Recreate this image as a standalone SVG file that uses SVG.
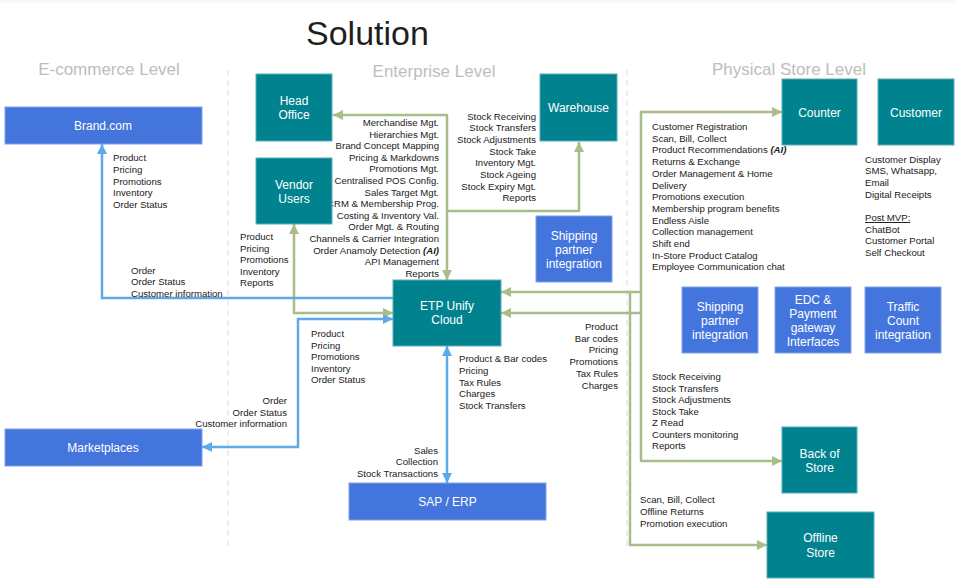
<svg xmlns="http://www.w3.org/2000/svg" width="955" height="584" viewBox="0 0 955 584">
<style>
.lbl{font-family:"Liberation Sans",Arial,sans-serif;font-size:9.6px;fill:#1a1a1a}
.end{text-anchor:end}
.nt{font-family:"Liberation Sans",Arial,sans-serif;font-size:12px;fill:#ffffff;text-anchor:middle}
.lvl{font-family:"Liberation Sans",Arial,sans-serif;font-size:17px;fill:#bdbdbd;text-anchor:middle}
.teal{fill:#00838f;stroke:#5aaeb8;stroke-width:1}
.blue{fill:#4475dd;stroke:#7ea3ec;stroke-width:1}
.g{fill:none;stroke:#a9bd8b;stroke-width:2.5}
.b{fill:none;stroke:#5da9e9;stroke-width:2.5}
.div{stroke:#dddddd;stroke-width:1;stroke-dasharray:6,4}
.ai{font-weight:bold;font-style:italic}
</style>
<defs>
<marker id="ag" viewBox="0 0 10 10" refX="10" refY="5" markerWidth="10" markerHeight="10" markerUnits="userSpaceOnUse" orient="auto-start-reverse"><path d="M0,0 L10,5 L0,10 z" fill="#a9bd8b"/></marker>
<marker id="ab" viewBox="0 0 10 10" refX="10" refY="5" markerWidth="10" markerHeight="10" markerUnits="userSpaceOnUse" orient="auto-start-reverse"><path d="M0,0 L10,5 L0,10 z" fill="#5da9e9"/></marker>
</defs>
<rect x="0" y="0" width="955" height="584" fill="#ffffff"/>
<rect x="0" y="0" width="955" height="3" fill="#f6f8fb"/>

<text x="306" y="45" font-family="Liberation Sans,Arial,sans-serif" font-size="34" fill="#1f1f1f">Solution</text>

<g id="levels">
<line class="div" x1="228" y1="70" x2="228" y2="548"/>
<line class="div" x1="627" y1="70" x2="627" y2="548"/>
<text class="lvl" x="109" y="75">E-commerce Level</text>
<text class="lvl" x="434" y="77">Enterprise Level</text>
<text class="lvl" x="789" y="75">Physical Store Level</text>
</g>

<g id="connectors">
<path class="g" d="M447,280 V115 H333" marker-start="url(#ag)" marker-end="url(#ag)"/>
<path class="g" d="M447,211 H579 V142" marker-end="url(#ag)"/>
<path class="g" d="M393,313 H294 V224" marker-start="url(#ag)" marker-end="url(#ag)"/>
<path class="g" d="M501,292 H641" marker-start="url(#ag)"/>
<path class="g" d="M501,313 H641" marker-start="url(#ag)"/>
<path class="g" d="M782,112 H641 V461 H782" marker-start="url(#ag)" marker-end="url(#ag)"/>
<path class="g" d="M630,292 V545 H767" marker-end="url(#ag)"/>
<path class="b" d="M393,298 H102 V144" marker-end="url(#ab)"/>
<path class="b" d="M393,319 H298 V447 H202" marker-start="url(#ab)" marker-end="url(#ab)"/>
<path class="b" d="M447,346 V483" marker-start="url(#ab)" marker-end="url(#ab)"/>
</g>

<g id="labels">
<text class="lbl" x="113" y="161">Product</text>
<text class="lbl" x="113" y="172.8">Pricing</text>
<text class="lbl" x="113" y="184.6">Promotions</text>
<text class="lbl" x="113" y="196.4">Inventory</text>
<text class="lbl" x="113" y="208.2">Order Status</text>

<text class="lbl" x="131" y="273.5">Order</text>
<text class="lbl" x="131" y="285.3">Order Status</text>
<text class="lbl" x="131" y="297">Customer information</text>

<text class="lbl" x="240" y="240">Product</text>
<text class="lbl" x="240" y="251.6">Pricing</text>
<text class="lbl" x="240" y="263.2">Promotions</text>
<text class="lbl" x="240" y="274.8">Inventory</text>
<text class="lbl" x="240" y="286.4">Reports</text>

<text class="lbl end" x="439" y="126">Merchandise Mgt.</text>
<text class="lbl end" x="439" y="137.6">Hierarchies Mgt.</text>
<text class="lbl end" x="439" y="149.2">Brand Concept Mapping</text>
<text class="lbl end" x="439" y="160.8">Pricing &amp; Markdowns</text>
<text class="lbl end" x="439" y="172.4">Promotions Mgt.</text>
<text class="lbl end" x="439" y="184">Centralised POS Config.</text>
<text class="lbl end" x="439" y="195.6">Sales Target Mgt.</text>
<text class="lbl end" x="439" y="207.2">CRM &amp; Membership Prog.</text>
<text class="lbl end" x="439" y="218.8">Costing &amp; Inventory Val.</text>
<text class="lbl end" x="439" y="230.4">Order Mgt. &amp; Routing</text>
<text class="lbl end" x="439" y="242">Channels &amp; Carrier Integration</text>
<text class="lbl end" x="439" y="253.6">Order Anamoly Detection <tspan class="ai">(AI)</tspan></text>
<text class="lbl end" x="439" y="265.2">API Management</text>
<text class="lbl end" x="439" y="276.8">Reports</text>

<text class="lbl end" x="536" y="119.5">Stock Receiving</text>
<text class="lbl end" x="536" y="131.2">Stock Transfers</text>
<text class="lbl end" x="536" y="142.9">Stock Adjustments</text>
<text class="lbl end" x="536" y="154.6">Stock Take</text>
<text class="lbl end" x="536" y="166.3">Inventory Mgt.</text>
<text class="lbl end" x="536" y="178">Stock Ageing</text>
<text class="lbl end" x="536" y="189.7">Stock Expiry Mgt.</text>
<text class="lbl end" x="536" y="201.4">Reports</text>

<text class="lbl" x="652" y="130">Customer Registration</text>
<text class="lbl" x="652" y="141.7">Scan, Bill, Collect</text>
<text class="lbl" x="652" y="153.4">Product Recommendations <tspan class="ai">(AI)</tspan></text>
<text class="lbl" x="652" y="165.1">Returns &amp; Exchange</text>
<text class="lbl" x="652" y="176.8">Order Management &amp; Home</text>
<text class="lbl" x="652" y="188.5">Delivery</text>
<text class="lbl" x="652" y="200.2">Promotions execution</text>
<text class="lbl" x="652" y="211.9">Membership program benefits</text>
<text class="lbl" x="652" y="223.6">Endless Aisle</text>
<text class="lbl" x="652" y="235.3">Collection management</text>
<text class="lbl" x="652" y="247">Shift end</text>
<text class="lbl" x="652" y="258.7">In-Store Product Catalog</text>
<text class="lbl" x="652" y="270.4">Employee Communication chat</text>

<text class="lbl" x="865" y="162.5">Customer Display</text>
<text class="lbl" x="865" y="174.2">SMS, Whatsapp,</text>
<text class="lbl" x="865" y="185.8">Email</text>
<text class="lbl" x="865" y="197.5">Digital Receipts</text>
<text class="lbl" x="865" y="221" text-decoration="underline">Post MVP:</text>
<text class="lbl" x="865" y="232.5">ChatBot</text>
<text class="lbl" x="865" y="244.2">Customer Portal</text>
<text class="lbl" x="865" y="255.8">Self Checkout</text>

<text class="lbl end" x="618" y="330">Product</text>
<text class="lbl end" x="618" y="341.7">Bar codes</text>
<text class="lbl end" x="618" y="353.4">Pricing</text>
<text class="lbl end" x="618" y="365.1">Promotions</text>
<text class="lbl end" x="618" y="376.8">Tax Rules</text>
<text class="lbl end" x="618" y="388.5">Charges</text>

<text class="lbl" x="459" y="362">Product &amp; Bar codes</text>
<text class="lbl" x="459" y="373.8">Pricing</text>
<text class="lbl" x="459" y="385.6">Tax Rules</text>
<text class="lbl" x="459" y="397.4">Charges</text>
<text class="lbl" x="459" y="409.2">Stock Transfers</text>

<text class="lbl" x="311" y="337">Product</text>
<text class="lbl" x="311" y="348.5">Pricing</text>
<text class="lbl" x="311" y="360">Promotions</text>
<text class="lbl" x="311" y="371.5">Inventory</text>
<text class="lbl" x="311" y="383">Order Status</text>

<text class="lbl end" x="287" y="404">Order</text>
<text class="lbl end" x="287" y="415.5">Order Status</text>
<text class="lbl end" x="287" y="427">Customer information</text>

<text class="lbl end" x="438" y="453.5">Sales</text>
<text class="lbl end" x="438" y="465">Collection</text>
<text class="lbl end" x="438" y="476.5">Stock Transactions</text>

<text class="lbl" x="652" y="380">Stock Receiving</text>
<text class="lbl" x="652" y="391.5">Stock Transfers</text>
<text class="lbl" x="652" y="403.1">Stock Adjustments</text>
<text class="lbl" x="652" y="414.6">Stock Take</text>
<text class="lbl" x="652" y="426.2">Z Read</text>
<text class="lbl" x="652" y="437.7">Counters monitoring</text>
<text class="lbl" x="652" y="449.3">Reports</text>

<text class="lbl" x="640" y="502.5">Scan, Bill, Collect</text>
<text class="lbl" x="640" y="514.5">Offline Returns</text>
<text class="lbl" x="640" y="526.5">Promotion execution</text>
</g>

<g id="brand"><rect class="blue" x="5" y="107" width="197" height="37"/><text class="nt" x="103" y="129.5">Brand.com</text></g>
<g id="marketplaces"><rect class="blue" x="5" y="429" width="197" height="37"/><text class="nt" x="103" y="452">Marketplaces</text></g>
<g id="headoffice"><rect class="teal" x="256" y="74" width="76" height="67"/><text class="nt" x="294" y="105">Head</text><text class="nt" x="294" y="118.5">Office</text></g>
<g id="vendor"><rect class="teal" x="256" y="158" width="76" height="66"/><text class="nt" x="294" y="189">Vendor</text><text class="nt" x="294" y="202.5">Users</text></g>
<g id="warehouse"><rect class="teal" x="540" y="74" width="77" height="67"/><text class="nt" x="578.5" y="112">Warehouse</text></g>
<g id="shipping1"><rect class="blue" x="536" y="216" width="76" height="66"/><text class="nt" x="574" y="240">Shipping</text><text class="nt" x="574" y="253.5">partner</text><text class="nt" x="574" y="267.5">integration</text></g>
<g id="etp"><rect class="teal" x="393" y="280" width="108" height="66"/><text class="nt" x="447" y="310">ETP Unify</text><text class="nt" x="447" y="323.5">Cloud</text></g>
<g id="sap"><rect class="blue" x="349" y="483" width="197" height="37"/><text class="nt" x="447.5" y="506">SAP / ERP</text></g>
<g id="counter"><rect class="teal" x="782" y="79" width="75" height="66"/><text class="nt" x="819.5" y="117">Counter</text></g>
<g id="customer"><rect class="teal" x="878" y="79" width="76" height="66"/><text class="nt" x="916" y="117">Customer</text></g>
<g id="shipping2"><rect class="blue" x="682" y="287" width="76" height="66"/><text class="nt" x="720" y="311">Shipping</text><text class="nt" x="720" y="325">partner</text><text class="nt" x="720" y="339">integration</text></g>
<g id="edc"><rect class="blue" x="775" y="287" width="76" height="66"/><text class="nt" x="813" y="304">EDC &amp;</text><text class="nt" x="813" y="318">Payment</text><text class="nt" x="813" y="332">gateway</text><text class="nt" x="813" y="345.5">Interfaces</text></g>
<g id="traffic"><rect class="blue" x="865" y="287" width="76" height="66"/><text class="nt" x="903" y="311">Traffic</text><text class="nt" x="903" y="325">Count</text><text class="nt" x="903" y="339">integration</text></g>
<g id="backstore"><rect class="teal" x="782" y="427" width="75" height="66"/><text class="nt" x="819.5" y="458">Back of</text><text class="nt" x="819.5" y="472">Store</text></g>
<g id="offline"><rect class="teal" x="767" y="512" width="107" height="66"/><text class="nt" x="820.5" y="542">Offline</text><text class="nt" x="820.5" y="556.5">Store</text></g>
</svg>
